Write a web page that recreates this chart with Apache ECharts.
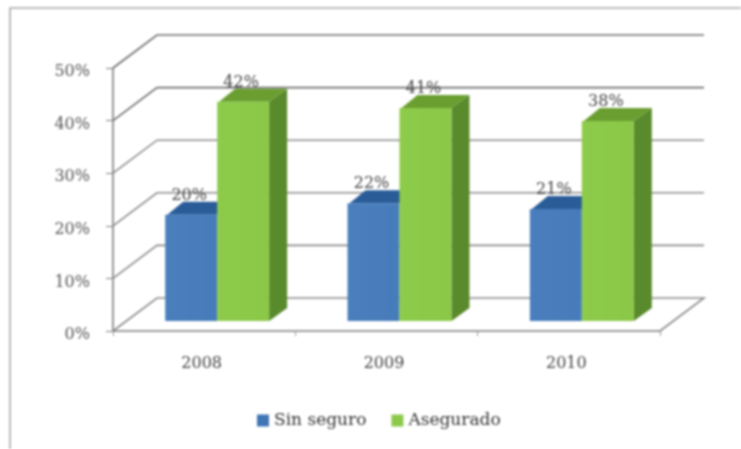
<!DOCTYPE html>
<html><head><meta charset="utf-8">
<style>html,body{margin:0;padding:0;background:#fff;overflow:hidden}#c{width:741px;height:449px}#c canvas{filter:blur(.8px)}</style>
<script src="https://cdn.jsdelivr.net/npm/echarts@6/dist/echarts.min.js"></script>
</head><body><div id="c"></div>
<script>
const categories = ['2008', '2009', '2010'];
const sinSeguro = [20.2, 22.4, 21.3];
const asegurado = [41.7, 40.5, 38];
const gridTicks = [0, 10, 20, 30, 40, 50];

const FONT = '"DejaVu Serif", serif';
const WALL_DX = 44, WALL_DY = 33;        // depth of the chart box
const BAR_INSET_X = 13, BAR_INSET_Y = 10; // bars sit inside the box
const BAR_DX = 18, BAR_DY = 13;          // depth of a bar
const BAR_W = 0.285;                     // bar width as share of a category

function barRenderer(side, colors, withSide) {
  return function (params, api) {
    const cat = api.value(0), val = api.value(1);
    const p = api.coord([cat, val]);
    const base = api.coord([cat, 0]);
    const w = api.size([1, 0])[0] * BAR_W;
    const cx = p[0] + BAR_INSET_X;
    const x = side < 0 ? cx - w : cx;
    const y = p[1] - BAR_INSET_Y, b = base[1] - BAR_INSET_Y;
    const kids = [];
    if (withSide) kids.push({type: 'polygon', shape: {points: [[x + w, y], [x + w + BAR_DX, y - BAR_DY], [x + w + BAR_DX, b - BAR_DY], [x + w, b]]}, style: {fill: colors.side}});
    kids.push({type: 'polygon', shape: {points: [[x + 2, y], [x + w, y], [x + w + BAR_DX, y - BAR_DY], [x + BAR_DX, y - BAR_DY]]}, style: {fill: colors.top}});
    kids.push({type: 'rect', shape: {x: x, y: y, width: w, height: b - y},
      style: {fill: {type: 'linear', x: 0, y: 0, x2: 1, y2: 0, colorStops: [{offset: 0, color: colors.front[0]}, {offset: 1, color: colors.front[1]}]}}});
    kids.push({type: 'text', z2: 50, style: {text: Math.round(val) + '%', x: x + w / 2 - 2, y: y - 19, align: 'center', verticalAlign: 'middle', font: '16px ' + FONT, fill: '#444'}});
    return {type: 'group', children: kids};
  };
}

function wallRenderer(params, api) {
  const v = api.value(0);
  const p = api.coord([0, v]);
  const g = params.coordSys;
  const pts = [[g.x, p[1]], [g.x + WALL_DX, p[1] - WALL_DY], [g.x + g.width + WALL_DX, p[1] - WALL_DY]];
  if (v === 0) pts.push([g.x + g.width, p[1]]);
  return {type: 'polyline', shape: {points: pts}, style: {fill: 'none', stroke: v >= 40 ? '#6f6f6f' : '#8c8c8c', lineWidth: 1.6}};
}

const chart = echarts.init(document.getElementById('c'));
chart.setOption({
  animation: false,
  backgroundColor: '#fff',
  grid: {left: 113, top: 68, width: 547, height: 263, containLabel: false},
  graphic: [{type: 'rect', silent: true, z: -1, shape: {x: 10, y: 8, width: 900, height: 700}, style: {fill: 'none', stroke: '#a8a8a8', lineWidth: 1.6}}],
  xAxis: {
    type: 'category', data: categories,
    axisLine: {lineStyle: {color: '#7c7c7c', width: 1.6}},
    axisTick: {show: true, alignWithLabel: false, length: 5, lineStyle: {color: '#9a9a9a'}},
    axisLabel: {margin: 25, color: '#444', fontFamily: FONT, fontSize: 16, padding: [0, 5, 0, 0]}
  },
  yAxis: {
    type: 'value', min: 0, max: 50, interval: 10,
    axisLine: {show: true, lineStyle: {color: '#7c7c7c', width: 1.6}},
    axisTick: {show: true, length: 7, lineStyle: {color: '#7c7c7c'}},
    splitLine: {show: false},
    axisLabel: {margin: 23, color: '#555', fontFamily: FONT, fontSize: 16, verticalAlign: 'top', padding: [-4, 0, 0, 0], formatter: '{value}%'}
  },
  legend: {
    left: 252, top: 407, itemWidth: 12, itemHeight: 12, itemGap: 25, icon: 'rect',
    data: ['Sin seguro', 'Asegurado'],
    textStyle: {color: '#333', fontFamily: FONT, fontSize: 17}
  },
  series: [
    {type: 'custom', name: 'walls', silent: true, z: 1, clip: false, data: gridTicks.map(v => [v]), encode: {y: 0}, renderItem: wallRenderer},
    {type: 'custom', name: 'Sin seguro', z: 2, clip: false, itemStyle: {color: '#3F74B5'},
      data: sinSeguro.map((v, i) => [i, v]), encode: {x: 0, y: 1},
      renderItem: barRenderer(-1, {front: ['#4A7EBD', '#477CBB'], top: '#2A5C98'}, false)},
    {type: 'custom', name: 'Asegurado', z: 3, clip: false, itemStyle: {color: '#8CC84B'},
      data: asegurado.map((v, i) => [i, v]), encode: {x: 0, y: 1},
      renderItem: barRenderer(1, {front: ['#8DCB4B', '#8BC847'], top: '#6A9E30', side: '#598A2C'}, true)}
  ]
});
</script></body></html>
